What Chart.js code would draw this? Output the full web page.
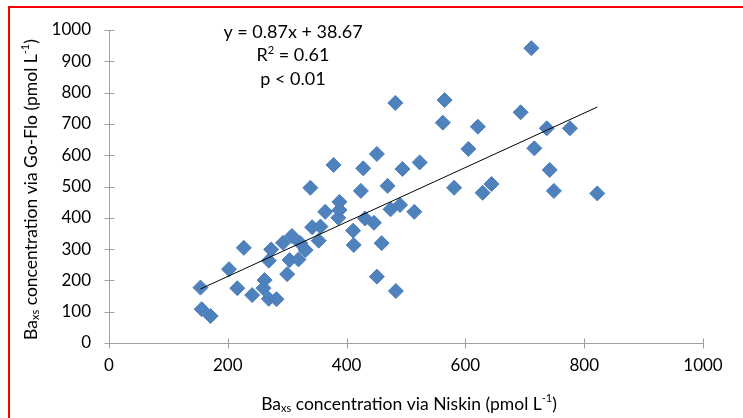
<!DOCTYPE html>
<html><head><meta charset="utf-8">
<script src="https://cdn.jsdelivr.net/npm/chart.js@4.4.0/dist/chart.umd.min.js"></script>
<style>
html,body{margin:0;padding:0;background:#fff;overflow:hidden;}
#wrap{position:relative;width:743px;height:418px;}
#frame{position:absolute;left:8px;top:6px;width:760px;height:440px;border-left:2px solid #ff0000;border-top:2px solid #ff0000;pointer-events:none;}
</style></head><body>
<div id="wrap"><canvas id="c" width="743" height="418"></canvas><div id="frame"></div></div>
<script>
// Ba_xs via Niskin (x) and via Go-Flo (y), pmol/L
const niskin = [154,156,171,202,227,216,241,262,260,269,282,269,273,300,293,308,304,319,322,331,
                342,356,353,364,386,388,388,339,378,428,451,494,523,424,469,474,490,514,431,446,
                411,412,459,451,483,605,621,562,565,581,629,644,693,711,737,776,716,742,749,822,482];
const goflo  = [177,108,86,236,304,175,153,201,175,141,140,263,299,220,320,342,265,267,319,297,
                370,372,327,419,400,451,425,496,569,558,604,556,577,486,502,427,441,419,398,384,
                359,313,319,212,166,620,691,704,776,496,480,508,737,942,686,686,622,553,486,478,767];
const xTicks = [0,200,400,600,800,1000];
const yTicks = [0,100,200,300,400,500,600,700,800,900,1000];
const slope = 0.87, intercept = 38.67;
const annotationLines = [
  [{t:'y = 0.87x + 38.67'}],
  [{t:'R'},{t:'2',sup:true},{t:' = 0.61'}],
  [{t:'p < 0.01'}]
];
const xTitle = [{t:'Ba'},{t:'xs',sub:true},{t:' concentration via Niskin (pmol L'},{t:'-1',sup:true},{t:')'}];
const yTitle = [{t:'Ba'},{t:'xs',sub:true},{t:' concentration via Go-Flo (pmol L'},{t:'-1',sup:true},{t:')'}];

const FONT = 'Lato';
const axisColor = '#a0a0a0';

const points = niskin.map((x,i)=>({x:x, y:goflo[i]}));
const xmin = Math.min(...niskin), xmax = Math.max(...niskin);
const trend = [{x:xmin, y:slope*xmin+intercept},{x:xmax, y:slope*xmax+intercept}];

function drawRich(ctx, parts, cx, cy, size, rot){
  ctx.save();
  ctx.translate(cx, cy);
  if (rot) ctx.rotate(rot);
  const small = Math.round(size*0.62);
  let total = 0;
  const w = parts.map(p=>{
    ctx.font = (p.sub||p.sup ? small : size) + 'px ' + FONT;
    const m = ctx.measureText(p.t).width; total += m; return m;
  });
  let x = -total/2;
  ctx.textBaseline = 'middle';
  ctx.textAlign = 'left';
  ctx.fillStyle = '#000';
  parts.forEach((p,i)=>{
    ctx.font = (p.sub||p.sup ? small : size) + 'px ' + FONT;
    let dy = 0;
    if (p.sub) dy = size*0.28;
    if (p.sup) dy = -size*0.3;
    ctx.fillText(p.t, x, dy);
    x += w[i];
  });
  ctx.restore();
}

const decor = {
  id:'decor',
  beforeDatasetsDraw(chart){
    const ctx = chart.ctx, xs = chart.scales.x, ys = chart.scales.y;
    ctx.save();
    ctx.strokeStyle = axisColor; ctx.lineWidth = 1;
    const bx = Math.round(xs.left)+0.5, by = Math.round(ys.bottom)+0.5;
    ctx.beginPath(); ctx.moveTo(bx, ys.top); ctx.lineTo(bx, by); ctx.lineTo(xs.right, by); ctx.stroke();
    xTicks.forEach(v=>{
      const px = Math.round(xs.getPixelForValue(v))+0.5;
      ctx.beginPath(); ctx.moveTo(px, by-5); ctx.lineTo(px, by+5); ctx.stroke();
    });
    yTicks.forEach(v=>{
      const py = Math.round(ys.getPixelForValue(v))+0.5;
      ctx.beginPath(); ctx.moveTo(bx-5, py); ctx.lineTo(bx+5, py); ctx.stroke();
    });
    ctx.restore();
  },
  afterDraw(chart){
    const ctx = chart.ctx, xs = chart.scales.x, ys = chart.scales.y;
    drawRich(ctx, xTitle, (xs.left+xs.right)/2 + 3, 404, 17.5, 0);
    drawRich(ctx, yTitle, 31, (ys.top+ys.bottom)/2 + 3, 17.5, -Math.PI/2);
    annotationLines.forEach((ln,i)=>{
      drawRich(ctx, ln, 293, 32 + i*23.5, 18, 0);
    });
  }
};

new Chart(document.getElementById('c'), {
  type:'scatter',
  data:{datasets:[
    {data:trend, showLine:true, borderColor:'#000', borderWidth:1, pointRadius:0, order:0},
    {data:points, pointStyle:'rectRot', pointRadius:7.5, backgroundColor:'#4F81BD', borderColor:'#4A7EBB', borderWidth:1, order:1}
  ]},
  options:{
    responsive:false, animation:false, devicePixelRatio:1,
    layout:{padding:{top:30, right:40, left:0, bottom:0}},
    plugins:{legend:{display:false}, tooltip:{enabled:false}},
    scales:{
      x:{type:'linear', min:0, max:1000,
         afterBuildTicks:s=>{s.ticks = xTicks.map(v=>({value:v}));},
         afterFit:s=>{s.height = 75;},
         grid:{display:false, drawTicks:false}, border:{display:false},
         ticks:{font:{family:FONT, size:17}, color:'#000', padding:12, maxRotation:0, callback:v=>String(v)}},
      y:{type:'linear', min:0, max:1000,
         afterBuildTicks:s=>{s.ticks = yTicks.map(v=>({value:v}));},
         afterFit:s=>{s.width = 109;},
         grid:{display:false, drawTicks:false}, border:{display:false},
         ticks:{font:{family:FONT, size:17}, color:'#000', padding:18, callback:v=>String(v)}}
    }
  },
  plugins:[decor]
});
</script>
</body></html>
